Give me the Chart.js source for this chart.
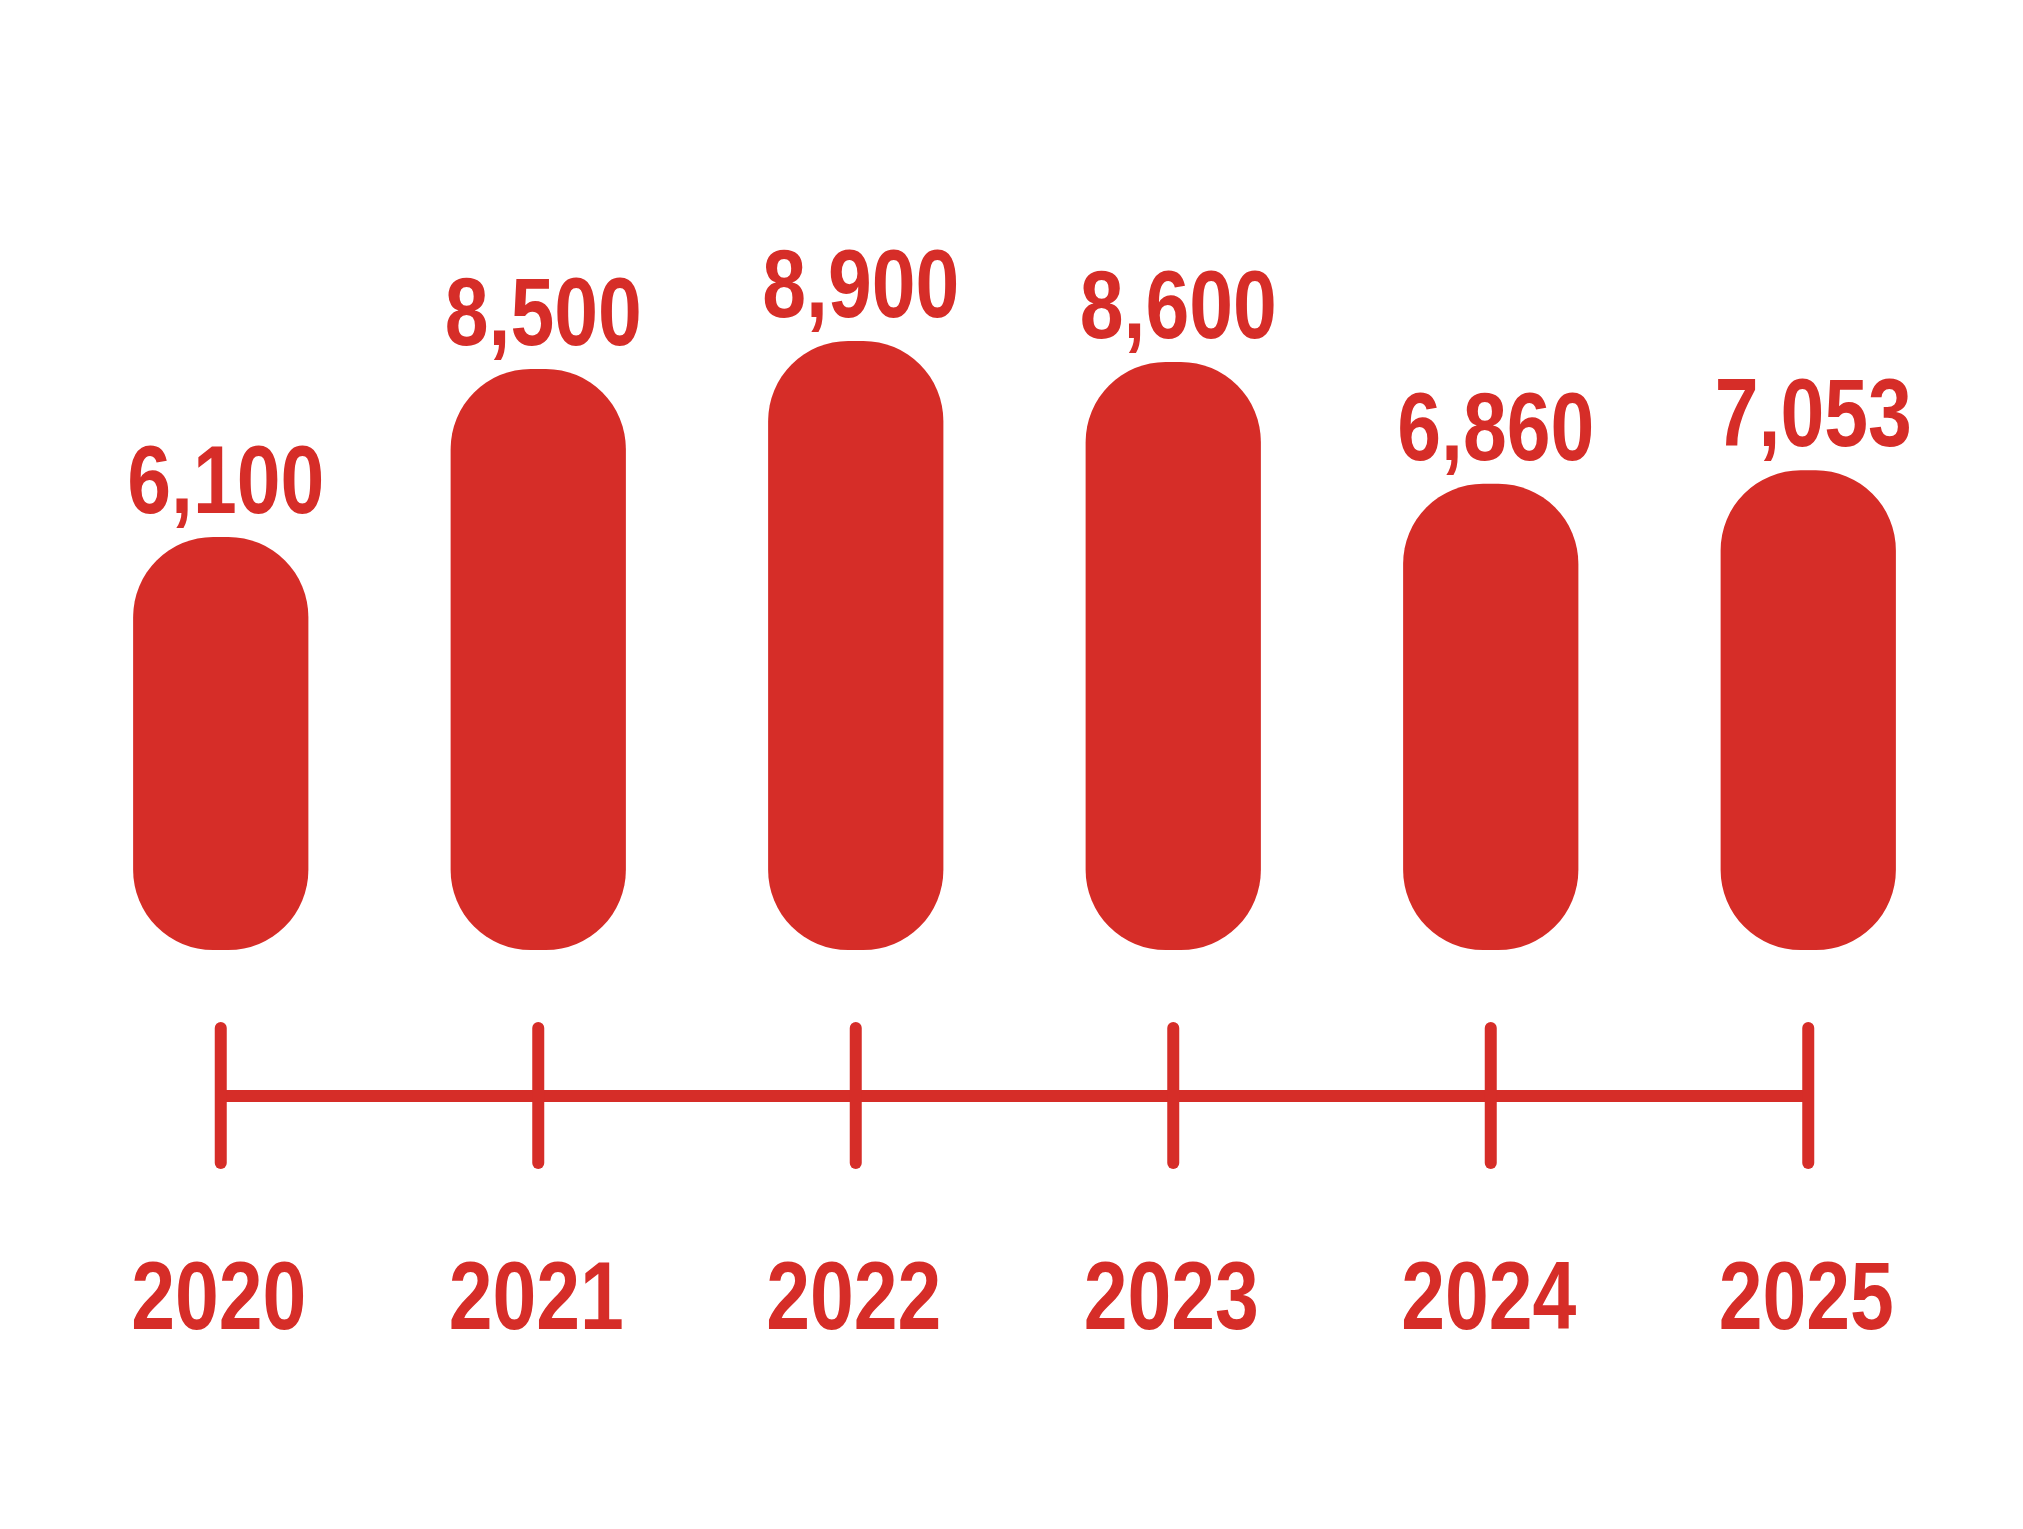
<!DOCTYPE html>
<html>
<head>
<meta charset="utf-8">
<script src="https://cdn.jsdelivr.net/npm/chart.js@4/dist/chart.umd.min.js"></script>
<style>
  html, body { margin: 0; padding: 0; background: #ffffff; }
  #wrap { width: 2023px; height: 1529px; }
</style>
</head>
<body>
<div id="wrap"><canvas id="c" width="2023" height="1529"></canvas></div>
<script>
const years = ['2020', '2021', '2022', '2023', '2024', '2025'];
const values = [6100, 8500, 8900, 8600, 6860, 7053];
const valueLabels = ['6,100', '8,500', '8,900', '8,600', '6,860', '7,053'];

const RED = 'rgb(214,45,40)';
const FONT = '"Liberation Sans", Arial, sans-serif';
const SQUEEZE = 0.82;

function condensedText(ctx, text, x, y) {
  ctx.save();
  ctx.translate(x, y);
  ctx.scale(SQUEEZE, 1);
  ctx.fillText(text, 0, 0);
  ctx.restore();
}

const decorPlugin = {
  id: 'decor',
  afterDatasetsDraw(chart) {
    const ctx = chart.ctx;
    const xs = chart.scales.x;
    const meta = chart.getDatasetMeta(0);
    ctx.save();
    ctx.fillStyle = RED;
    ctx.strokeStyle = RED;

    // value labels
    ctx.font = 'bold 96px ' + FONT;
    ctx.textAlign = 'center';
    ctx.textBaseline = 'alphabetic';
    meta.data.forEach((bar, i) => {
      condensedText(ctx, valueLabels[i], bar.x + 5, bar.y - 24);
    });

    // timeline axis
    const lineY = 1096;
    const x0 = xs.getPixelForValue(0);
    const x1 = xs.getPixelForValue(years.length - 1);
    ctx.lineWidth = 12;
    ctx.lineCap = 'butt';
    ctx.beginPath();
    ctx.moveTo(x0, lineY);
    ctx.lineTo(x1, lineY);
    ctx.stroke();
    ctx.lineCap = 'round';
    years.forEach((y, i) => {
      const x = xs.getPixelForValue(i);
      ctx.beginPath();
      ctx.moveTo(x, 1028);
      ctx.lineTo(x, 1163);
      ctx.stroke();
    });

    // year labels
    ctx.font = 'bold 96px ' + FONT;
    years.forEach((y, i) => {
      const x = xs.getPixelForValue(i);
      condensedText(ctx, y, x - 2, 1329);
    });
    ctx.restore();
  }
};

new Chart(document.getElementById('c'), {
  type: 'bar',
  data: {
    labels: years,
    datasets: [{
      data: values,
      base: 200,
      backgroundColor: RED,
      borderWidth: 0,
      borderSkipped: false,
      borderRadius: 80,
      barPercentage: 0.552,
      categoryPercentage: 1
    }]
  },
  options: {
    responsive: false,
    animation: false,
    devicePixelRatio: 1,
    layout: { padding: { left: 62, right: 56, top: 250, bottom: 579 } },
    plugins: { legend: { display: false }, tooltip: { enabled: false } },
    scales: {
      x: { display: false, offset: true },
      y: { display: false, min: 200, max: 10200 }
    }
  },
  plugins: [decorPlugin]
});
</script>
</body>
</html>
